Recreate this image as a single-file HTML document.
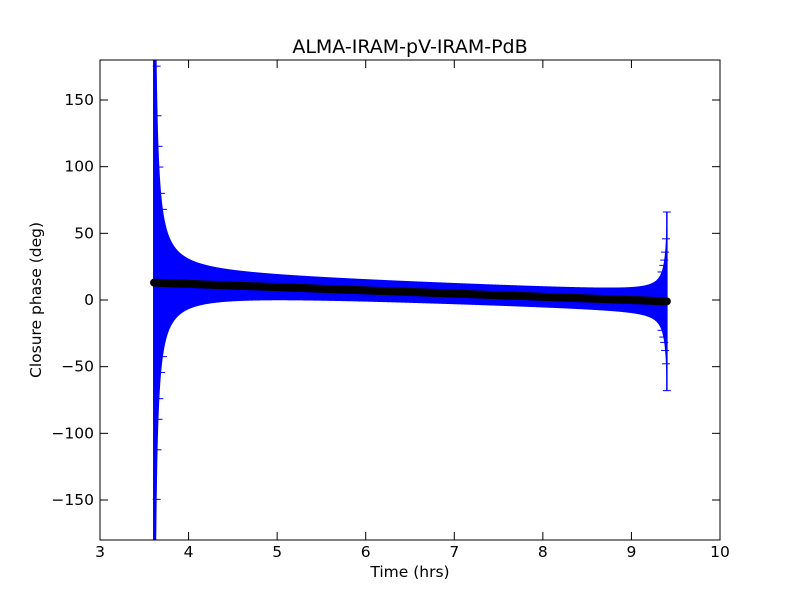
<!DOCTYPE html>
<html><head><meta charset="utf-8"><style>
body{margin:0;background:#fff;}
svg text{font-family:"DejaVu Sans","Liberation Sans",sans-serif;}
</style></head><body>
<svg id="s" width="800" height="600" xmlns="http://www.w3.org/2000/svg">
<rect width="800" height="600" fill="#fff"/>
<defs><clipPath id="c"><rect x="100" y="60" width="620" height="480"/></clipPath></defs>
<g id="data" clip-path="url(#c)"></g>
<rect x="100" y="60" width="620" height="480" fill="none" stroke="#000" stroke-width="1"/>
<g id="ticks" stroke="#000" stroke-width="1"></g>
<g id="labels" font-size="15.5" fill="#000"></g>
<text x="410" y="53" font-size="19" text-anchor="middle">ALMA-IRAM-pV-IRAM-PdB</text>
<text x="410" y="577" font-size="15.5" text-anchor="middle">Time (hrs)</text>
<text x="41" y="300" font-size="15.5" text-anchor="middle" transform="rotate(-90 41 300)">Closure phase (deg)</text>
</svg>
<script>
var NS="http://www.w3.org/2000/svg";
function X(t){return 100+(t-3)*620/7;}
function Y(v){return 300-v*480/360;}
function el(p,n,a){var e=document.createElementNS(NS,n);for(var k in a)e.setAttribute(k,a[k]);p.appendChild(e);return e;}
var d=document.getElementById('data'),tk=document.getElementById('ticks'),lb=document.getElementById('labels');
var t0=3.61,t1=9.40;
function mid(t){return 13-14*(t-t0)/(t1-t0);}
function err(t){var a=t-t0+0.002,b=9.42-t;return 6+5/a+1.2/b;}
var up=[],lo=[];
for(var t=t0;t<=t1+1e-9;t+=0.005){var m=mid(t),e=err(t);up.push(X(t).toFixed(2)+","+Y(Math.min(m+e,200)).toFixed(2));lo.unshift(X(t).toFixed(2)+","+Y(Math.max(m-e,-200)).toFixed(2));}
el(d,'polygon',{points:up.concat(lo).join(' '),fill:'#0000ff'});
el(d,'line',{x1:X(t0),y1:40,x2:X(t0),y2:560,stroke:'#0000ff','stroke-width':2});
[3.612,3.615,3.62,3.625,3.63,3.64,3.65,3.66,3.67,3.69,3.71].forEach(function(t){var m=mid(t),e=err(t);[m+e,m-e].forEach(function(v){if(Math.abs(v)<180)el(d,'line',{x1:X(t)-4,x2:X(t)+4,y1:Y(v),y2:Y(v),stroke:'#0000ff'});});});
[9.40,9.39,9.38,9.37,9.36,9.34].forEach(function(t){var m=mid(t),e=(t==9.40?67:err(t));[m+e,m-e].forEach(function(v){el(d,'line',{x1:X(t)-4,x2:X(t)+4,y1:Y(v),y2:Y(v),stroke:'#0000ff'});});});
el(d,'line',{x1:X(9.40),x2:X(9.40),y1:Y(66),y2:Y(-68),stroke:'#0000ff','stroke-width':1.5});
el(d,'line',{x1:X(t0),y1:Y(mid(t0)),x2:X(t1),y2:Y(mid(t1)),stroke:'#000','stroke-width':8,'stroke-linecap':'round'});
for(var i=3;i<=10;i++){var x=X(i);el(tk,'line',{x1:x,x2:x,y1:540,y2:532});el(tk,'line',{x1:x,x2:x,y1:60,y2:68});
var tx=el(lb,'text',{x:x,y:557,'text-anchor':'middle'});tx.textContent=i;}
for(var v=-150;v<=150;v+=50){var y=Y(v);el(tk,'line',{x1:100,x2:108,y1:y,y2:y});el(tk,'line',{x1:720,x2:712,y1:y,y2:y});
var ty=el(lb,'text',{x:94,y:y+5,'text-anchor':'end'});ty.textContent=(v<0?'\u2212'+(-v):v);}
</script>
</body></html>
